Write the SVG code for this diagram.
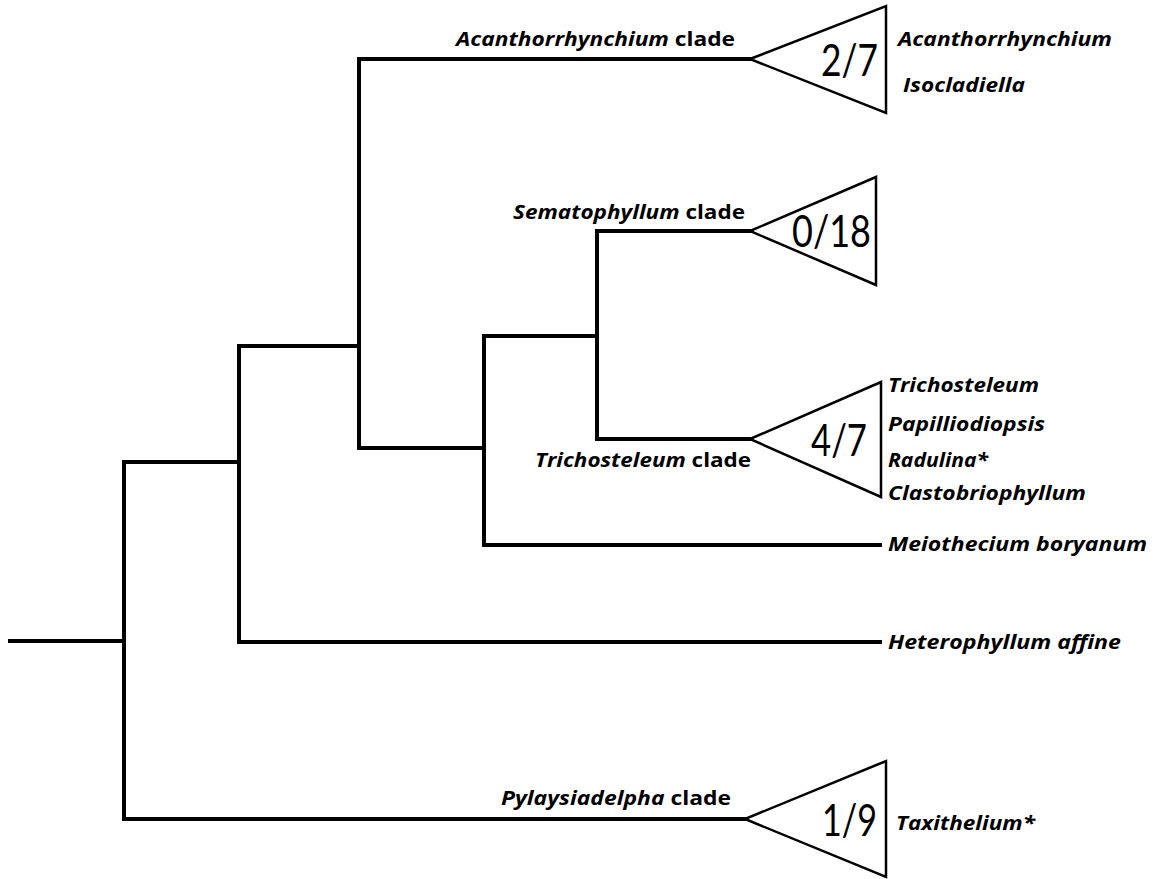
<svg xmlns="http://www.w3.org/2000/svg" width="1162" height="879" viewBox="0 0 1162 879">
<style>
.br{stroke:#000;stroke-width:4;fill:none;stroke-linecap:square;stroke-linejoin:miter}
.tri{stroke:#000;stroke-width:2.5;fill:#fff;stroke-linejoin:miter}
.lab{font-family:"Open Sans",Lato,sans-serif;font-weight:700;font-size:20px;fill:#000}
.it{font-style:italic}
.num{font-family:Lato,"Open Sans",sans-serif;font-weight:400;font-size:44px;fill:#000}
</style>
<rect width="1162" height="879" fill="#fff"/>
<g id="connectors">
<path class="br" d="M10,641 H124"/>
<path class="br" d="M239,642 V462 H124 V819 H745"/>
<path class="br" d="M239,642 H880"/>
<path class="br" d="M239,462 V346 H359"/>
<path class="br" d="M750,59 H359 V448 H484"/>
<path class="br" d="M484,336 V545 H880"/>
<path class="br" d="M484,336 H597 V231 H750"/>
<path class="br" d="M597,336 V439 H750"/>
</g>
<g id="acanthorrhynchium">
<polygon class="tri" points="750,59 886,6 886,113"/>
<text class="lab" x="456" y="46" textLength="279" lengthAdjust="spacingAndGlyphs"><tspan class="it">Acanthorrhynchium</tspan> clade</text>
<text class="num" x="821" y="76" textLength="57" lengthAdjust="spacingAndGlyphs">2/7</text>
<text class="lab it" x="898" y="46" textLength="214" lengthAdjust="spacingAndGlyphs">Acanthorrhynchium</text>
<text class="lab it" x="903" y="92" textLength="122" lengthAdjust="spacingAndGlyphs">Isocladiella</text>
</g>
<g id="sematophyllum">
<polygon class="tri" points="750,231 876,177 876,285"/>
<text class="lab" x="513" y="219" textLength="232" lengthAdjust="spacingAndGlyphs"><tspan class="it">Sematophyllum</tspan> clade</text>
<text class="num" x="792" y="247" textLength="79" lengthAdjust="spacingAndGlyphs">0/18</text>
</g>
<g id="trichosteleum">
<polygon class="tri" points="750,439 881,382 881,497"/>
<text class="lab" x="535" y="467" textLength="216" lengthAdjust="spacingAndGlyphs"><tspan class="it">Trichosteleum</tspan> clade</text>
<text class="num" x="811" y="456" textLength="56" lengthAdjust="spacingAndGlyphs">4/7</text>
<text class="lab it" x="888" y="392" textLength="151" lengthAdjust="spacingAndGlyphs">Trichosteleum</text>
<text class="lab it" x="888" y="431" textLength="157" lengthAdjust="spacingAndGlyphs">Papilliodiopsis</text>
<text class="lab it" x="888" y="467" textLength="100" lengthAdjust="spacingAndGlyphs">Radulina*</text>
<text class="lab it" x="888" y="500" textLength="198" lengthAdjust="spacingAndGlyphs">Clastobriophyllum</text>
</g>
<g id="meiothecium">
<text class="lab it" x="888" y="551" textLength="259" lengthAdjust="spacingAndGlyphs">Meiothecium boryanum</text>
</g>
<g id="heterophyllum">
<text class="lab it" x="888" y="649" textLength="233" lengthAdjust="spacingAndGlyphs">Heterophyllum affine</text>
</g>
<g id="pylaysiadelpha">
<polygon class="tri" points="745,819 886,761 886,877"/>
<text class="lab" x="501" y="805" textLength="230" lengthAdjust="spacingAndGlyphs"><tspan class="it">Pylaysiadelpha</tspan> clade</text>
<text class="num" x="822" y="836" textLength="55" lengthAdjust="spacingAndGlyphs">1/9</text>
<text class="lab it" x="896" y="830" textLength="139" lengthAdjust="spacingAndGlyphs">Taxithelium*</text>
</g>
</svg>
